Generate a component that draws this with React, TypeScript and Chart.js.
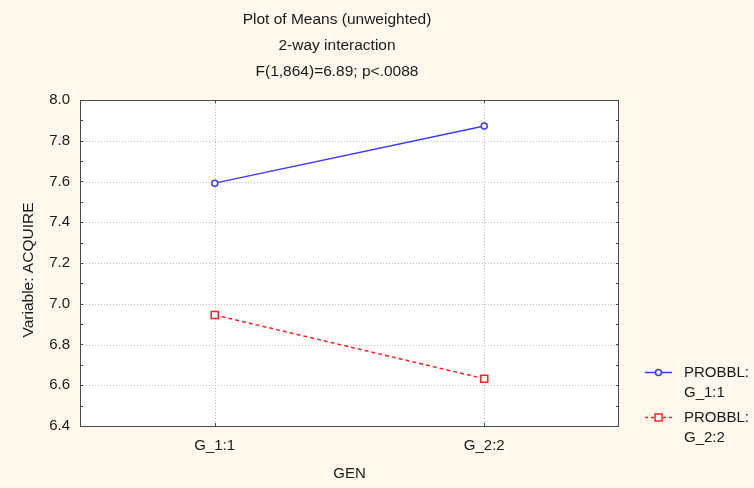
import React, { useEffect, useRef } from "react";
import { Chart, registerables } from "chart.js";

Chart.register(...registerables);

// ---- Data ----
const categories: string[] = ["G_1:1", "G_2:2"];
const probbl1Values: number[] = [7.592, 7.872];
const probbl2Values: number[] = [6.945, 6.632];
const yTickValues: number[] = [6.4, 6.6, 6.8, 7.0, 7.2, 7.4, 7.6, 7.8, 8.0];
const yMinorStep = 0.1;
const titleLines: string[] = [
  "Plot of Means (unweighted)",
  "2-way interaction",
  "F(1,864)=6.89; p<.0088",
];
const xAxisTitle = "GEN";
const yAxisTitle = "Variable: ACQUIRE";
const legendLines: string[][] = [
  ["PROBBL:", "G_1:1"],
  ["PROBBL:", "G_2:2"],
];

const BLUE = "#3b3bff";
const RED = "#ff2424";
const BG = "#fff9ee";
const AXIS = "#4a4a4a";
const GRID = "#bdbdbd";
const FONT = "'Liberation Sans', Arial, sans-serif";

const decorPlugin = {
  id: "decor",
  beforeDraw(chart: any) {
    const ctx = chart.ctx;
    ctx.save();
    ctx.fillStyle = BG;
    ctx.fillRect(0, 0, chart.width, chart.height);
    const a = chart.chartArea;
    ctx.fillStyle = "#ffffff";
    ctx.fillRect(a.left, a.top, a.right - a.left, a.bottom - a.top);
    ctx.restore();
  },
  beforeDatasetsDraw(chart: any) {
    const ctx = chart.ctx;
    const a = chart.chartArea;
    const xs = chart.scales.x;
    const ys = chart.scales.y;
    ctx.save();
    // dotted grid
    ctx.strokeStyle = GRID;
    ctx.lineWidth = 1;
    ctx.setLineDash([1, 2]);
    yTickValues.forEach((v) => {
      const y = Math.round(ys.getPixelForValue(v)) + 0.5;
      if (y <= a.top + 1 || y >= a.bottom - 1) return;
      ctx.beginPath();
      ctx.moveTo(a.left, y);
      ctx.lineTo(a.right, y);
      ctx.stroke();
    });
    categories.forEach((_, i) => {
      const x = Math.round(xs.getPixelForValue(i)) + 0.5;
      ctx.beginPath();
      ctx.moveTo(x, a.top);
      ctx.lineTo(x, a.bottom);
      ctx.stroke();
    });
    ctx.setLineDash([]);
    // minor ticks on left/right
    ctx.strokeStyle = AXIS;
    const lo = yTickValues[0];
    const hi = yTickValues[yTickValues.length - 1];
    const n = Math.round((hi - lo) / yMinorStep);
    for (let k = 1; k < n; k++) {
      const v = lo + k * yMinorStep;
      const y = Math.round(ys.getPixelForValue(v)) + 0.5;
      ctx.beginPath();
      ctx.moveTo(a.left, y);
      ctx.lineTo(a.left + 3, y);
      ctx.moveTo(a.right, y);
      ctx.lineTo(a.right - 3, y);
      ctx.stroke();
    }
    categories.forEach((_, i) => {
      const x = Math.round(xs.getPixelForValue(i)) + 0.5;
      ctx.beginPath();
      ctx.moveTo(x, a.top);
      ctx.lineTo(x, a.top + 3);
      ctx.moveTo(x, a.bottom);
      ctx.lineTo(x, a.bottom - 3);
      ctx.stroke();
    });
    // border
    ctx.strokeStyle = AXIS;
    ctx.lineWidth = 1;
    ctx.strokeRect(a.left + 0.5, a.top + 0.5, a.right - a.left - 1, a.bottom - a.top);
    ctx.beginPath();
    ctx.moveTo(a.right - 0.5, a.top);
    ctx.lineTo(a.right - 0.5, a.bottom + 1);
    ctx.stroke();
    ctx.restore();
  },
  afterDraw(chart: any) {
    const ctx = chart.ctx;
    const a = chart.chartArea;
    ctx.save();
    ctx.fillStyle = "#1a1a1a";
    ctx.textBaseline = "middle";
    // title
    ctx.textAlign = "center";
    ctx.font = `15.5px ${FONT}`;
    const titleY = [20, 46, 72];
    titleLines.forEach((t, i) => ctx.fillText(t, 337, titleY[i]));
    // x axis title
    ctx.font = `15px ${FONT}`;
    ctx.fillText(xAxisTitle, (a.left + a.right) / 2, 474);
    // y axis title
    ctx.save();
    ctx.translate(29, 270);
    ctx.rotate(-Math.PI / 2);
    ctx.font = `15.5px ${FONT}`;
    ctx.fillText(yAxisTitle, 0, 0);
    ctx.restore();
    // legend
    const items = [
      { color: BLUE, dash: [] as number[], y: 372, marker: "circle" },
      { color: RED, dash: [3, 3], y: 417, marker: "rect" },
    ];
    items.forEach((it, i) => {
      ctx.strokeStyle = it.color;
      ctx.lineWidth = 1.5;
      ctx.setLineDash(it.dash);
      ctx.beginPath();
      ctx.moveTo(645, it.y + 0.5);
      ctx.lineTo(672, it.y + 0.5);
      ctx.stroke();
      ctx.setLineDash([]);
      ctx.fillStyle = "#ffffff";
      ctx.lineWidth = 1.5;
      if (it.marker === "circle") {
        ctx.beginPath();
        ctx.arc(658.5, it.y + 0.5, 3, 0, Math.PI * 2);
        ctx.fill();
        ctx.stroke();
      } else {
        ctx.fillRect(655, it.y - 3, 7, 7);
        ctx.strokeRect(655, it.y - 3, 7, 7);
      }
      ctx.fillStyle = "#1a1a1a";
      ctx.textAlign = "left";
      ctx.font = `15px ${FONT}`;
      ctx.fillText(legendLines[i][0], 684, it.y + 0.5);
      ctx.fillText(legendLines[i][1], 684, it.y + 21);
    });
    ctx.restore();
  },
};

export default function App() {
  const canvasRef = useRef<HTMLCanvasElement | null>(null);

  useEffect(() => {
    const canvas = canvasRef.current;
    if (!canvas) return;
    const chart = new Chart(canvas, {
      type: "line",
      data: {
        labels: categories,
        datasets: [
          {
            label: legendLines[0].join(" "),
            data: probbl1Values,
            borderColor: BLUE,
            borderWidth: 1.5,
            pointStyle: "circle",
            pointRadius: 3,
            pointBorderWidth: 1.5,
            pointBackgroundColor: "#ffffff",
            pointBorderColor: BLUE,
            tension: 0,
          },
          {
            label: legendLines[1].join(" "),
            data: probbl2Values,
            borderColor: RED,
            borderWidth: 1.5,
            borderDash: [4, 3],
            pointStyle: "rect",
            pointRadius: 5,
            pointBorderWidth: 1.5,
            pointBackgroundColor: "#ffffff",
            pointBorderColor: RED,
            tension: 0,
          },
        ],
      },
      options: {
        animation: false,
        responsive: false,
        maintainAspectRatio: false,
        devicePixelRatio: 1,
        layout: {
          autoPadding: false,
          padding: { top: 100, right: 135, left: 0, bottom: 0 },
        },
        plugins: {
          legend: { display: false },
          title: { display: false },
          tooltip: { enabled: false },
        },
        scales: {
          x: {
            type: "category",
            offset: true,
            grid: { display: false, drawTicks: false },
            border: { display: false },
            ticks: {
              padding: 11,
              color: "#1a1a1a",
              font: { family: FONT, size: 15 },
              maxRotation: 0,
            },
            afterFit: (s: any) => {
              s.height = 62;
            },
          },
          y: {
            type: "linear",
            min: yTickValues[0],
            max: yTickValues[yTickValues.length - 1],
            grid: { display: false, drawTicks: false },
            border: { display: false },
            ticks: {
              padding: 10,
              color: "#1a1a1a",
              font: { family: FONT, size: 15 },
              callback: (v: any) => Number(v).toFixed(1),
            },
            afterBuildTicks: (s: any) => {
              s.ticks = yTickValues.map((v) => ({ value: v }));
            },
            afterFit: (s: any) => {
              s.width = 80;
            },
          },
        },
      },
      plugins: [decorPlugin],
    });
    return () => chart.destroy();
  }, []);

  return (
    <div
      style={{
        position: "fixed",
        left: 0,
        top: 0,
        width: 754,
        height: 488,
        background: BG,
      }}
    >
      <canvas ref={canvasRef} width={754} height={488} style={{ width: 754, height: 488, display: "block" }} />
    </div>
  );
}
